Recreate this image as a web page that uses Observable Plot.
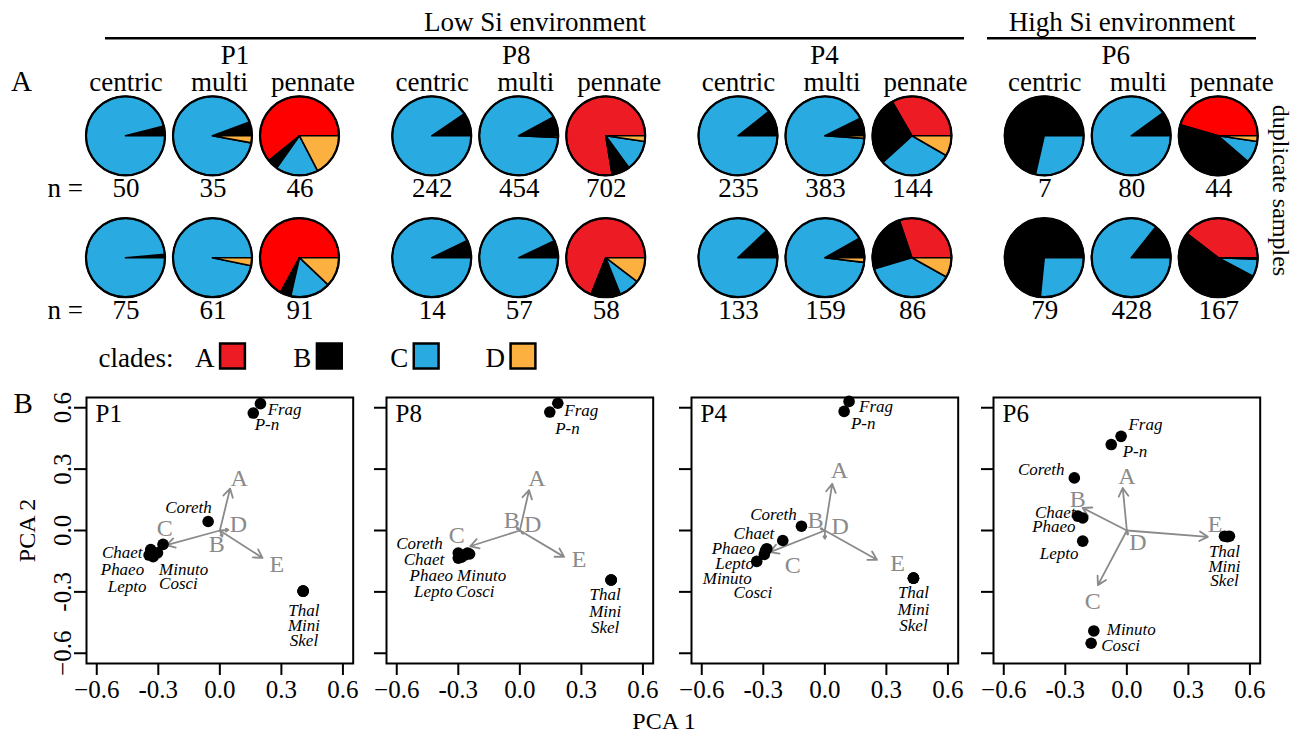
<!DOCTYPE html>
<html>
<head>
<meta charset="utf-8">
<script src="https://cdn.jsdelivr.net/npm/d3@7"></script>
<script src="https://cdn.jsdelivr.net/npm/@observablehq/plot@0.6"></script>
<style>
  body { margin: 0; background: #fff; }
  #fig { position: relative; width: 1301px; height: 735px; background: #fff;
         font-family: "Liberation Serif", "Times New Roman", serif; overflow: hidden; }
  #fig > div { position: absolute; }
  #fig svg { overflow: visible; max-width: none; background: transparent; }
  .lbl { white-space: nowrap; line-height: 24px; font-size: 24px; color: #000; }
</style>
</head>
<body>
<div id="fig"></div>
<script>
// ---------------- DATA ----------------
const sites = ["P1", "P8", "P4", "P6"];
const types = ["centric", "multi", "pennate"];
const clades = ["A", "B", "C", "D"];
const cladeColors = ["#ED1C24", "#000000", "#29ABE2", "#FBB040"];
const envLabels = ["Low Si environment", "High Si environment"];

// clone counts per clade [A, B, C, D]; order: site x type (P1 centric, P1 multi, P1 pennate, P8 ...)
const rep1Counts = [
  [0, 2, 48, 0], [0, 2, 32, 1], [28, 2, 8, 8],
  [0, 23, 219, 0], [0, 36, 415, 3], [545, 52, 89, 16],
  [0, 25, 210, 0], [0, 28, 351, 4], [48, 41, 43, 12],
  [0, 5, 2, 0], [0, 8, 72, 0], [20, 19, 4, 1]
];
const rep2Counts = [
  [0, 1, 74, 0], [0, 0, 59, 2], [61, 4, 15, 11],
  [0, 1, 13, 0], [0, 4, 53, 0], [40, 7, 5, 6],
  [0, 16, 117, 0], [0, 13, 143, 3], [26, 21, 32, 7],
  [0, 58, 21, 0], [0, 61, 367, 0], [66, 88, 12, 1]
];

// PCA taxa
const taxa = ["Frag", "P-n", "Coreth", "Chaet", "Phaeo", "Lepto", "Minuto", "Cosci", "Thal", "Mini", "Skel"];
const variables = ["A", "B", "C", "D", "E"];
const pcaTicks = [-0.6, -0.3, 0, 0.3, 0.6];
const pcaTickLabels = ["\u22120.6", "-0.3", "0.0", "0.3", "0.6"];

// scores [PCA1, PCA2]
const scoresP1 = [[0.198, 0.62], [0.163, 0.574], [-0.057, 0.044], [-0.337, -0.093], [-0.345, -0.12], [-0.325, -0.128], [-0.304, -0.109], [-0.277, -0.068], [0.406, -0.296], [0.406, -0.296], [0.406, -0.296]];
const scoresP8 = [[0.185, 0.622], [0.146, 0.579], [-0.30, -0.11], [-0.30, -0.135], [-0.285, -0.13], [-0.27, -0.12], [-0.255, -0.11], [-0.245, -0.115], [0.445, -0.242], [0.445, -0.242], [0.445, -0.242]];
const scoresP4 = [[0.118, 0.631], [0.094, 0.582], [-0.114, 0.021], [-0.205, -0.049], [-0.283, -0.089], [-0.295, -0.117], [-0.332, -0.151], [-0.29, -0.10], [0.432, -0.233], [0.432, -0.233], [0.432, -0.233]];
const scoresP6 = [[-0.028, 0.46], [-0.076, 0.42], [-0.256, 0.257], [-0.239, 0.07], [-0.215, 0.061], [-0.215, -0.052], [-0.161, -0.491], [-0.174, -0.551], [0.476, -0.028], [0.49, -0.03], [0.5, -0.028]];

// taxon label anchor points in PCA units [PCA1, PCA2, anchor]
const labelsP1 = [[0.233, 0.59, "start"], [0.17, 0.52, "start"], [-0.153, 0.114, "middle"], [-0.377, -0.109, "end"], [-0.369, -0.19, "end"], [-0.358, -0.275, "end"], [-0.296, -0.19, "start"], [-0.296, -0.26, "start"], [0.41, -0.39, "middle"], [0.41, -0.467, "middle"], [0.41, -0.537, "middle"]];
const labelsP8 = [[0.217, 0.585, "start"], [0.172, 0.5, "start"], [-0.376, -0.063, "end"], [-0.368, -0.141, "end"], [-0.326, -0.22, "end"], [-0.327, -0.296, "end"], [-0.306, -0.22, "start"], [-0.312, -0.296, "start"], [0.416, -0.312, "middle"], [0.416, -0.394, "middle"], [0.416, -0.472, "middle"]];
const labelsP4 = [[0.167, 0.605, "start"], [0.127, 0.523, "start"], [-0.137, 0.078, "end"], [-0.247, -0.016, "end"], [-0.34, -0.089, "end"], [-0.345, -0.16, "end"], [-0.356, -0.233, "end"], [-0.256, -0.304, "end"], [0.432, -0.304, "middle"], [0.432, -0.387, "middle"], [0.432, -0.467, "middle"]];
const labelsP6 = [[0.008, 0.52, "start"], [-0.02, 0.387, "start"], [-0.304, 0.30, "end"], [-0.25, 0.086, "end"], [-0.25, 0.018, "end"], [-0.236, -0.112, "end"], [-0.098, -0.483, "start"], [-0.125, -0.561, "start"], [0.476, -0.104, "middle"], [0.476, -0.174, "middle"], [0.476, -0.247, "middle"]];

// loadings (arrow tips) for variables A..E
const loadingsP1 = [[0.05, 0.205], [0.012, -0.03], [-0.26, -0.072], [0.042, 0.003], [0.208, -0.134]];
const loadingsP8 = [[0.045, 0.197], [-0.015, 0.013], [-0.242, -0.077], [0.018, -0.015], [0.216, -0.129]];
const loadingsP4 = [[0.036, 0.228], [-0.02, 0.01], [-0.267, -0.106], [0.0, -0.04], [0.254, -0.143]];
const loadingsP6 = [[-0.02, 0.208], [-0.215, 0.11], [-0.141, -0.267], [0.005, -0.02], [0.395, -0.031]];
const loadLabelsP1 = [[0.094, 0.257], [-0.015, -0.068], [-0.268, 0.013], [0.09, 0.03], [0.278, -0.163]];
const loadLabelsP8 = [[0.083, 0.257], [-0.039, 0.049], [-0.307, -0.023], [0.063, 0.032], [0.289, -0.141]];
const loadLabelsP4 = [[0.071, 0.296], [-0.046, 0.049], [-0.156, -0.171], [0.075, 0.021], [0.354, -0.16]];
const loadLabelsP6 = [[0.0, 0.265], [-0.239, 0.151], [-0.166, -0.345], [0.054, -0.056], [0.43, 0.029]];

// ---------------- LAYOUT / STYLE ----------------
const FONT = "Liberation Serif";
const GREY = "#8a8a8a";
const GROUP = 3.52;                 // distance between site groups, in pie-column units
const PIE_R = 39.5;
const BRIGHT_RED = "#FF0000";
const brightRedPies = new Set(["0-P1-pennate", "1-P1-pennate", "0-P6-pennate"]);
const envSpanPx = [[105, 964], [987, 1256]];
const siteDxPx = [22, -3, -1, -16];
const xA = px => (px - 125.5) / 87;     // part A layout helpers (pie column units)
const yA = px => (px - 135.8) / 121.9;  // (pie row units)

const pies = [];
[rep1Counts, rep2Counts].forEach((rep, r) => rep.forEach((counts, k) => {
  const s = Math.floor(k / 3), t = k % 3;
  pies.push({rep: r, site: sites[s], type: types[t], s, t, pos: s * GROUP + t, counts, n: d3.sum(counts)});
}));

const fig = document.getElementById("fig");
function place(node, left, top, width) {
  const div = document.createElement("div");
  div.style.left = left + "px";
  div.style.top = top + "px";
  if (width) div.style.width = width + "px";
  div.appendChild(node);
  fig.appendChild(div);
  return div;
}

// pie chart mark: centres through x / y scales, slice colours through the color scale
function pieMark(index, scales) {
  const g = d3.create("svg:g");
  const arc = d3.arc().innerRadius(0).outerRadius(PIE_R);
  for (const p of pies) {
    const gp = g.append("g").attr("transform", `translate(${scales.x(p.pos)},${scales.y(p.rep)})`);
    const total = d3.sum(p.counts);
    let a = 0;
    p.counts.forEach((v, i) => {
      if (v <= 0) return;
      const a0 = a, a1 = a + (v / total) * 2 * Math.PI;
      a = a1;
      let fill = scales.color(clades[i]);
      if (i === 0 && brightRedPies.has(`${p.rep}-${p.site}-${p.type}`)) fill = BRIGHT_RED;
      gp.append("path")
        .attr("d", arc({startAngle: Math.PI / 2 - a1, endAngle: Math.PI / 2 - a0}))
        .attr("fill", fill).attr("stroke", "#000").attr("stroke-width", 1.6)
        .attr("stroke-linejoin", "round");
    });
    gp.append("circle").attr("r", PIE_R).attr("fill", "none").attr("stroke", "#000").attr("stroke-width", 2.2);
  }
  return g.node();
}

// ---------------- PART A ----------------
const W = 1301, HA = 380;
const partA = Plot.plot({
  width: W, height: HA,
  marginLeft: 0, marginRight: 0, marginTop: 0, marginBottom: 0,
  x: {domain: [xA(0), xA(W)], range: [0, W], axis: null},
  y: {domain: [yA(0), yA(HA)], range: [0, HA], axis: null},
  color: {type: "ordinal", domain: clades, range: cladeColors},
  style: {fontFamily: FONT, background: "transparent", overflow: "visible"},
  marks: [
    Plot.ruleY(envLabels, {x1: (d, i) => xA(envSpanPx[i][0]), x2: (d, i) => xA(envSpanPx[i][1]), y: () => yA(37.7), strokeWidth: 2.5, stroke: "#000"}),
    Plot.text(envLabels, {x: (d, i) => xA((envSpanPx[i][0] + envSpanPx[i][1]) / 2), y: () => yA(30), text: d => d, fontSize: 27, lineAnchor: "bottom", fill: "#000"}),
    Plot.text(sites, {x: (d, i) => i * GROUP + 1 + siteDxPx[i] / 87, y: () => yA(63), text: d => d, fontSize: 27, lineAnchor: "bottom", fill: "#000"}),
    Plot.text(pies.filter(p => p.rep === 0), {x: p => p.pos + p.t * 0.075, y: () => yA(90), text: "type", fontSize: 27, lineAnchor: "bottom", fill: "#000"}),
    pieMark,
    Plot.text(pies, {x: "pos", y: "rep", dy: 61, text: p => String(p.n), fontSize: 27, lineAnchor: "bottom", fill: "#000"}),
    Plot.text([0, 1], {x: () => xA(47), y: d => d, dy: 61, text: () => "n =", textAnchor: "start", fontSize: 27, lineAnchor: "bottom", fill: "#000"}),
    Plot.text(["A"], {x: () => xA(10.5), y: () => yA(90), text: d => d, textAnchor: "start", fontSize: 29, lineAnchor: "bottom", fill: "#000"}),
    Plot.text(["duplicate samples"], {x: () => xA(1280), y: () => yA(190), text: d => d, rotate: 90, fontSize: 24, fill: "#000"}),
    Plot.text(["clades:"], {x: () => xA(98), y: () => yA(366), text: d => d, textAnchor: "start", fontSize: 27, lineAnchor: "bottom", fill: "#000"}),
    Plot.dot(clades, {x: (d, i) => xA(232) + i * 1.113, y: () => yA(355.5), fill: d => d, symbol: "square", r: 14, stroke: "#000", strokeWidth: 2.5}),
    Plot.text(clades, {x: (d, i) => xA(232) + i * 1.113, y: () => yA(366), dx: -18, text: d => d, textAnchor: "end", fontSize: 27, lineAnchor: "bottom", fill: "#000"})
  ]
});
place(partA, 0, 0, W);

// ---------------- PART B ----------------
const LIM = 0.65, BOXW = 266.7, BOXH = 266;
const TICK_LEN_X = 12 / (BOXW / (2 * LIM));
const TICK_LEN_Y = 12 / (BOXH / (2 * LIM));
const boxLefts = [86, 386, 690.7, 993.3];
const BOX_TOP = 396.7;

function panel(k, scores, labels, loadings, loadLabels) {
  const site = sites[k];
  const first = k === 0;
  const ml = first ? 86 : 50, mr = 12, mt = 10, mb = 50;
  const taxaData = taxa.map((name, i) => ({name, x: scores[i][0], y: scores[i][1], lx: labels[i][0], ly: labels[i][1], anchor: labels[i][2]}));
  const loadData = variables.map((name, i) => ({name, x: loadings[i][0], y: loadings[i][1], lx: loadLabels[i][0], ly: loadLabels[i][1]}));
  const fmt = (d, i) => pcaTickLabels[i];
  const marks = [
    Plot.frame({stroke: "#000", strokeWidth: 2}),
    Plot.ruleX(pcaTicks, {x: d => d, y1: () => -LIM, y2: () => -LIM - TICK_LEN_Y, stroke: "#000", strokeWidth: 2}),
    Plot.ruleY(pcaTicks, {y: d => d, x1: () => -LIM, x2: () => -LIM - TICK_LEN_X, stroke: "#000", strokeWidth: 2}),
    Plot.text(pcaTicks, {x: d => d, y: () => -LIM, dy: 35, lineAnchor: "bottom", text: fmt, fontSize: 25, fill: "#000"}),
    Plot.arrow(loadData, {x1: () => 0, y1: () => 0, x2: "x", y2: "y", stroke: GREY, strokeWidth: 1.8, headLength: 8}),
    Plot.text(loadData, {x: "lx", y: "ly", text: "name", fill: GREY, fontSize: 24}),
    Plot.dot(taxaData, {x: "x", y: "y", r: 5.8, fill: "#000"}),
    ...["start", "middle", "end"].map(a => Plot.text(taxaData.filter(d => d.anchor === a), {x: "lx", y: "ly", text: "name", textAnchor: a, fontStyle: "italic", fontSize: 17, fill: "#000"})),
    Plot.text([site], {frameAnchor: "top-left", dx: 9, dy: 7, text: d => d, fontSize: 25, fill: "#000"})
  ];
  if (first) {
    marks.push(
      Plot.text(pcaTicks, {x: () => -LIM, y: d => d, dx: -23, rotate: -90, text: fmt, fontSize: 25, fill: "#000"}),
      Plot.text(["B"], {frameAnchor: "top-left", dx: 13 - ml, dy: -5, text: d => d, fontSize: 29, fill: "#000"}),
      Plot.text(["PCA 2"], {frameAnchor: "left", dx: 27 - ml, rotate: -90, textAnchor: "middle", lineAnchor: "middle", text: d => d, fontSize: 24, fill: "#000"})
    );
  }
  const width = ml + BOXW + mr, height = mt + BOXH + mb;
  const svg = Plot.plot({
    width, height, marginLeft: ml, marginRight: mr, marginTop: mt, marginBottom: mb,
    x: {domain: [-LIM, LIM], axis: null},
    y: {domain: [-LIM, LIM], axis: null},
    style: {fontFamily: FONT, background: "transparent", overflow: "visible"},
    marks
  });
  place(svg, boxLefts[k] - ml, BOX_TOP - mt, width);
}

panel(0, scoresP1, labelsP1, loadingsP1, loadLabelsP1);
panel(1, scoresP8, labelsP8, loadingsP8, loadLabelsP8);
panel(2, scoresP4, labelsP4, loadingsP4, loadLabelsP4);
panel(3, scoresP6, labelsP6, loadingsP6, loadLabelsP6);

// x-axis title shared by the panels
const xt = document.createElement("span");
xt.className = "lbl";
xt.textContent = "PCA 1";
const xtDiv = place(xt, 664, 709);
xtDiv.style.transform = "translateX(-50%)";
</script>
</body>
</html>
